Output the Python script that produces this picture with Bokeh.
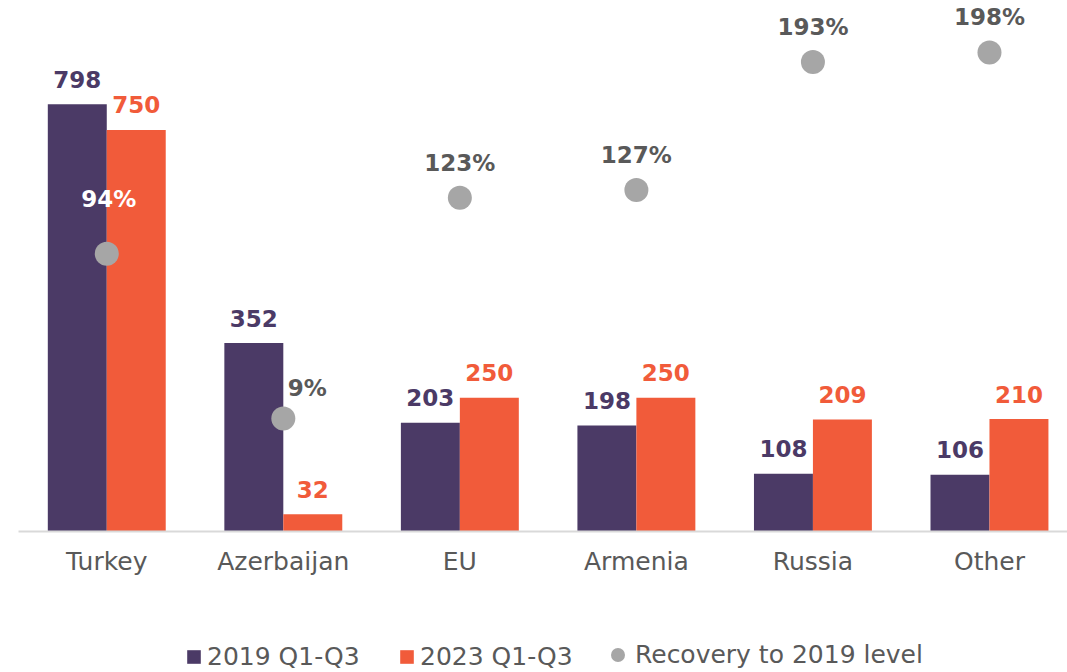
from bokeh.plotting import figure
from bokeh.layouts import column
from bokeh.models import Range1d, FixedTicker, ColumnDataSource, Legend, LegendItem
from bokeh.core.properties import value
from bokeh.embed import file_html
from bokeh.resources import INLINE

categories = ["Turkey", "Azerbaijan", "EU", "Armenia", "Russia", "Other"]
v2019 = [798, 352, 203, 198, 108, 106]
v2023 = [750, 32, 250, 250, 209, 210]
recovery = [94, 9, 123, 127, 193, 198]
series_names = ["2019 Q1-Q3", "2023 Q1-Q3", "Recovery to 2019 level"]

PURPLE = "#4b3a66"
ORANGE = "#f15b3a"
DOT = "#a6a6a6"
LABEL_GRAY = "#595959"
FONT = "DejaVu Sans"

centers = [i + 0.5 for i in range(len(categories))]
bw = 0.334

src = ColumnDataSource(dict(
    xc=centers,
    x19=[c - bw / 2 for c in centers],
    x23=[c + bw / 2 for c in centers],
    v19=v2019, v23=v2023,
    t19=[str(v) for v in v2019], t23=[str(v) for v in v2023],
    rec=recovery,
))

p = figure(width=1067, height=596, output_backend="svg", toolbar_location=None,
           x_range=Range1d(0, 5.942), y_range=Range1d(0, 991.6),
           min_border_left=18, min_border_right=0, min_border_top=0, min_border_bottom=65,
           outline_line_color=None, background_fill_color="white", border_fill_color="white")
p.extra_y_ranges = {"rec": Range1d(-49.4, 224.8)}
p.xgrid.visible = False
p.ygrid.visible = False
p.yaxis.visible = False

ax = p.xaxis[0]
ax.ticker = FixedTicker(ticks=centers)
ax.major_label_overrides = {c: n for c, n in zip(centers, categories)}
ax.major_tick_line_color = None
ax.minor_tick_line_color = None
ax.axis_line_color = "#d9d9d9"
ax.axis_line_width = 2
ax.major_label_standoff = 9
ax.major_label_text_font = FONT
ax.major_label_text_font_size = "25px"
ax.major_label_text_color = LABEL_GRAY

p.vbar(x="x19", top="v19", width=bw, bottom=0, source=src, fill_color=PURPLE, line_color=None)
p.vbar(x="x23", top="v23", width=bw, bottom=0, source=src, fill_color=ORANGE, line_color=None)
p.scatter(x="xc", y="rec", source=src, y_range_name="rec", size=24,
          fill_color=DOT, line_color=None)

common = dict(text_font=value(FONT), text_font_size="23px", text_font_style="bold",
              text_align="center", text_baseline="middle")
p.text(x="x19", y="v19", text="t19", source=src, y_offset=-25, text_color=PURPLE, **common)
p.text(x="x23", y="v23", text="t23", source=src, y_offset=-25, text_color=ORANGE, **common)

# recovery labels
idx_std = [2, 3, 4, 5]
s_std = ColumnDataSource(dict(x=[centers[i] for i in idx_std], y=[recovery[i] for i in idx_std],
                              t=[f"{recovery[i]}%" for i in idx_std]))
p.text(x="x", y="y", text="t", source=s_std, y_range_name="rec", y_offset=-35,
       text_color=LABEL_GRAY, **common)
s_tr = ColumnDataSource(dict(x=[centers[0]], y=[recovery[0]], t=[f"{recovery[0]}%"]))
p.text(x="x", y="y", text="t", source=s_tr, y_range_name="rec", y_offset=-55, x_offset=2,
       text_color="white", **common)
s_az = ColumnDataSource(dict(x=[centers[1]], y=[recovery[1]], t=[f"{recovery[1]}%"]))
p.text(x="x", y="y", text="t", source=s_az, y_range_name="rec", y_offset=-30, x_offset=24,
       text_color=LABEL_GRAY, **common)

# legend strip (its renderers sit outside the visible range; only the legend shows)
lg = figure(width=1067, height=76, output_backend="svg", toolbar_location=None,
            x_range=Range1d(0, 1), y_range=Range1d(0, 1),
            min_border_left=0, min_border_right=0, min_border_top=0, min_border_bottom=0,
            outline_line_color=None, background_fill_color="white", border_fill_color="white")
lg.axis.visible = False
lg.grid.visible = False
hidden = ColumnDataSource(dict(x=[5], top=[1], y=[5]))
d19 = lg.vbar(x="x", top="top", width=0.1, source=hidden, fill_color=PURPLE, line_color=None)
d23 = lg.vbar(x="x", top="top", width=0.1, source=hidden, fill_color=ORANGE, line_color=None)
ddot = lg.scatter(x="x", y="y", source=hidden, size=14, fill_color=DOT, line_color=None)

leg_style = dict(orientation="horizontal", label_text_font=FONT, label_text_font_size="25px",
                 label_text_color=LABEL_GRAY, padding=0, margin=0, border_line_color=None,
                 background_fill_alpha=0)
lg.add_layout(Legend(items=[LegendItem(label=series_names[0], renderers=[d19])],
                     location=(167, 1), glyph_width=17, glyph_height=17, label_standoff=5,
                     **leg_style), "center")
lg.add_layout(Legend(items=[LegendItem(label=series_names[1], renderers=[d23])],
                     location=(380, 1), glyph_width=17, glyph_height=17, label_standoff=5,
                     **leg_style), "center")
lg.add_layout(Legend(items=[LegendItem(label=series_names[2], renderers=[ddot])],
                     location=(582, 0), glyph_width=35, glyph_height=35, label_standoff=0,
                     **leg_style), "center")

layout = column(p, lg, spacing=0)
open("out.html", "w").write(file_html(layout, INLINE))
